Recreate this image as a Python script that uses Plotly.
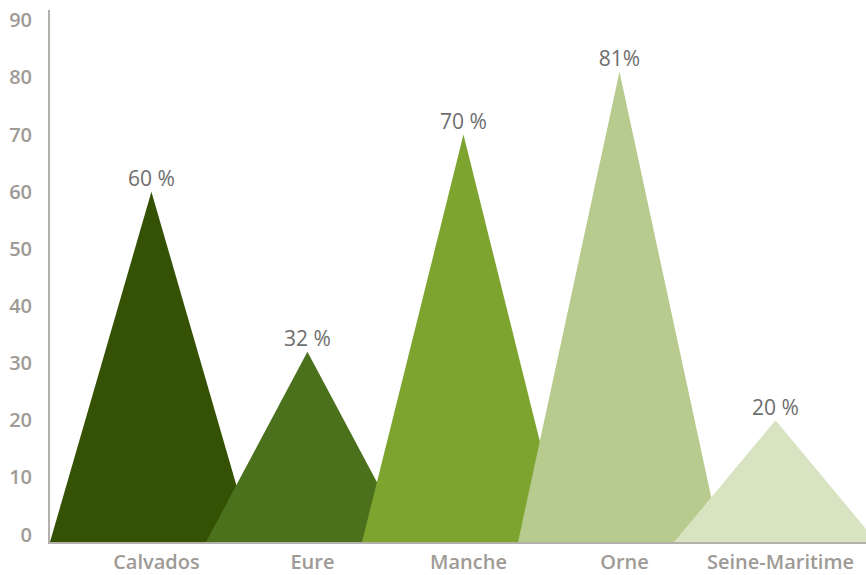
import plotly.graph_objects as go

# Share per département (%)
departements = ["Calvados", "Eure", "Manche", "Orne", "Seine-Maritime"]
valeurs = [60, 32, 70, 81, 20]
etiquettes = ["60 %", "32 %", "70 %", "81%", "20 %"]
couleurs = ["#345104", "#4c711d", "#7ca42f", "#b8cb8e", "#d8e3c1"]
graduations_y = [0, 10, 20, 30, 40, 50, 60, 70, 80, 90]

demi_largeur = 0.65   # half base width of each peak, in category units
y_min, y_max = -1.31, 91.8
x_min, x_max = -0.65, 4.58

fig = go.Figure()

for i, (nom, v, c) in enumerate(zip(departements, valeurs, couleurs)):
    fig.add_trace(go.Scatter(
        x=[i - demi_largeur, i, i + demi_largeur, i - demi_largeur],
        y=[y_min, v, y_min, y_min],
        mode="lines",
        fill="toself",
        fillcolor=c,
        line=dict(width=0, color=c),
        hoverinfo="skip",
        name=nom,
        showlegend=False,
    ))

fig.add_trace(go.Scatter(
    x=list(range(len(departements))),
    y=valeurs,
    mode="text",
    text=etiquettes,
    textposition="top center",
    textfont=dict(family="Open Sans", size=21, color="#6e6e6e"),
    hoverinfo="skip",
    showlegend=False,
))

fig.update_layout(
    width=866, height=575,
    margin=dict(l=50, r=0, t=10, b=33),
    paper_bgcolor="white",
    plot_bgcolor="white",
    xaxis=dict(
        range=[x_min, x_max],
        automargin=False,
        tickmode="array",
        tickvals=list(range(len(departements))),
        ticktext=departements,
        ticklabelshift=5,
        ticklabelstandoff=1,
        showgrid=False, zeroline=False,
        showline=True, linecolor="#b3afaa", linewidth=2,
        ticks="",
        tickfont=dict(family="Open Sans", size=20, color="#9e9a95", weight=600),
        fixedrange=True,
    ),
    yaxis=dict(
        range=[y_min, y_max],
        automargin=False,
        tickmode="array",
        tickvals=graduations_y,
        showgrid=False, zeroline=False,
        showline=True, linecolor="#b3afaa", linewidth=2,
        ticks="",
        ticklabelstandoff=12,
        tickfont=dict(family="Open Sans", size=20, color="#9e9a95", weight=600),
        fixedrange=True,
    ),
)

fig.write_html("out.html")
